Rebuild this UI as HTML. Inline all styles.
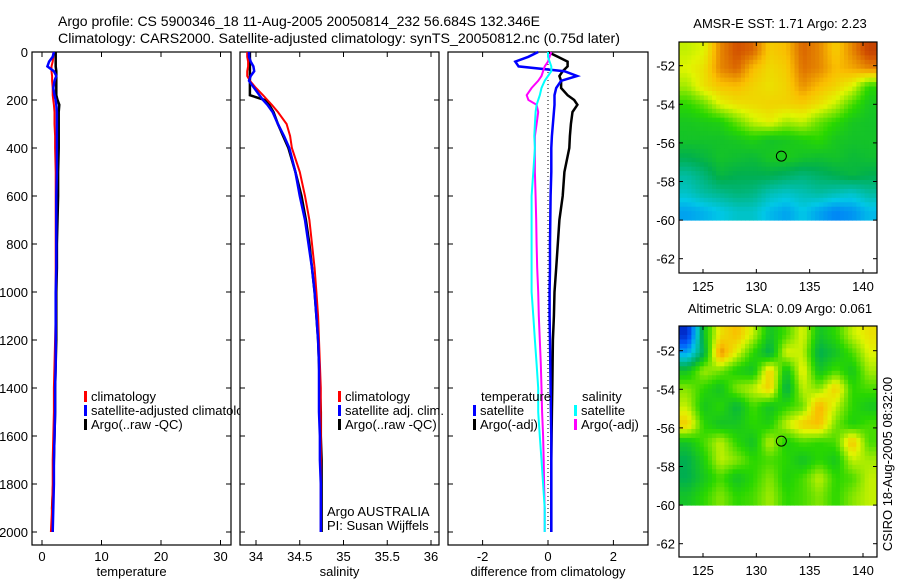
<!DOCTYPE html>
<html><head><meta charset="utf-8">
<style>
html,body{margin:0;padding:0;background:#fff;}
svg{display:block;font-family:"Liberation Sans",Arial,sans-serif;}
text{font-size:13px;fill:#000;}
</style></head>
<body>
<svg id="fig" width="900" height="580" viewBox="0 0 900 580">
<text x="58" y="26" textLength="482" lengthAdjust="spacingAndGlyphs" style="font-size:14px">Argo profile: CS 5900346_18 11-Aug-2005 20050814_232 56.684S 132.346E</text>
<text x="58" y="43" textLength="562" lengthAdjust="spacingAndGlyphs" style="font-size:14px">Climatology: CARS2000. Satellite-adjusted climatology: synTS_20050812.nc (0.75d later)</text>
<text x="780" y="28" text-anchor="middle">AMSR-E SST: 1.71 Argo: 2.23</text>
<text x="780" y="313" text-anchor="middle">Altimetric SLA: 0.09 Argo: 0.061</text>
<text transform="translate(892,464) rotate(-90)" text-anchor="middle">CSIRO 18-Aug-2005 08:32:00</text>
</svg>
<script>
const depths=[0,20,40,60,80,100,120,150,180,200,220,250,300,350,400,500,600,700,800,900,1000,1100,1200,1300,1400,1500,1600,1700,1800,1900,2000];
const climT=[1.9,1.9,1.8,1.6,1.6,1.7,1.7,1.8,1.8,1.9,2.0,2.1,2.1,2.2,2.2,2.3,2.3,2.3,2.3,2.3,2.3,2.3,2.2,2.1,2.0,2.0,1.9,1.8,1.8,1.7,1.5];
const satT=[2.0,1.8,1.2,0.9,2.0,2.4,2.1,1.9,2.1,2.3,2.4,2.5,2.5,2.5,2.5,2.5,2.4,2.4,2.4,2.4,2.3,2.3,2.3,2.3,2.2,2.2,2.1,2.0,2.0,1.9,1.8];
const argoT=[2.3,2.3,2.3,2.3,2.4,2.4,2.4,2.4,2.4,2.6,2.9,2.8,2.8,2.8,2.8,2.7,2.7,2.6,2.5,2.5,2.4,2.4,2.4,2.3,2.2,2.2,2.1,2.0,1.9,1.7,1.8];
const climS=[33.9,33.9,33.91,33.91,33.9,33.9,33.93,34.0,34.08,34.13,34.18,34.25,34.35,34.39,34.41,34.5,34.56,34.61,34.64,34.67,34.69,34.71,34.72,34.73,34.74,34.74,34.74,34.74,34.74,34.74,34.74];
const satS=[33.92,33.92,33.94,33.97,33.98,33.94,33.92,33.98,34.04,34.08,34.13,34.19,34.25,34.32,34.38,34.45,34.5,34.56,34.6,34.64,34.67,34.69,34.71,34.72,34.72,34.72,34.73,34.73,34.74,34.74,34.74];
const argoS=[33.93,33.93,33.93,33.93,33.93,33.93,33.93,33.93,33.93,34.1,34.15,34.2,34.25,34.31,34.37,34.45,34.52,34.57,34.61,34.64,34.67,34.69,34.71,34.72,34.73,34.74,34.74,34.75,34.75,34.75,34.75];
const dSatT=[-0.3,-0.6,-1.0,-0.9,0.5,0.89,0.4,0.25,0.2,0.2,0.2,0.18,0.15,0.12,0.1,0.1,0.08,0.07,0.06,0.06,0.05,0.05,0.06,0.07,0.08,0.09,0.1,0.1,0.1,0.1,0.1];
const dArgoT=[0.0,0.3,0.6,0.6,0.45,0.35,0.4,0.4,0.6,0.8,0.9,0.75,0.7,0.67,0.65,0.5,0.45,0.35,0.3,0.25,0.2,0.18,0.15,0.14,0.13,0.12,0.11,0.1,0.1,0.1,0.1];
const dSatS=[0.0,0.0,0.05,0.1,0.1,0.0,-0.1,-0.2,-0.25,-0.3,-0.35,-0.38,-0.4,-0.42,-0.4,-0.45,-0.5,-0.5,-0.5,-0.5,-0.5,-0.45,-0.4,-0.35,-0.3,-0.3,-0.25,-0.2,-0.15,-0.1,-0.1];
const dArgoS=[0.1,0.05,0.0,-0.1,-0.15,-0.2,-0.3,-0.5,-0.65,-0.6,-0.35,-0.3,-0.35,-0.4,-0.4,-0.4,-0.38,-0.36,-0.35,-0.33,-0.3,-0.28,-0.25,-0.22,-0.2,-0.18,-0.15,-0.13,-0.12,-0.1,-0.1];
const depthTicks=[0,200,400,600,800,1000,1200,1400,1600,1800,2000];
const tTicks=[0,10,20,30];
const sTicks=[34,34.5,35,35.5,36];
const dTicks=[-2,0,2];
const sstGrid=[
[0.7,0.72,0.85,0.9,0.88,0.78,0.8,0.88,0.85,0.78,0.85,0.92],
[0.72,0.75,0.85,0.88,0.8,0.76,0.78,0.87,0.85,0.8,0.82,0.85],
[0.68,0.75,0.79,0.8,0.77,0.75,0.77,0.84,0.8,0.77,0.72,0.6],
[0.6,0.64,0.72,0.75,0.76,0.77,0.77,0.78,0.75,0.7,0.62,0.56],
[0.56,0.57,0.58,0.64,0.7,0.73,0.68,0.7,0.64,0.6,0.56,0.55],
[0.55,0.55,0.55,0.56,0.58,0.55,0.56,0.58,0.6,0.56,0.55,0.55],
[0.5,0.52,0.55,0.54,0.53,0.56,0.57,0.55,0.54,0.55,0.53,0.54],
[0.42,0.46,0.52,0.5,0.5,0.5,0.48,0.46,0.48,0.5,0.52,0.5],
[0.38,0.42,0.44,0.46,0.45,0.4,0.38,0.4,0.42,0.4,0.38,0.42],
[0.3,0.32,0.35,0.38,0.38,0.33,0.3,0.35,0.3,0.26,0.28,0.33]];
const slaGrid=[
[0.1,0.55,0.75,0.8,0.7,0.55,0.62,0.72,0.55,0.6,0.7,0.75],
[0.3,0.5,0.85,0.72,0.6,0.5,0.72,0.7,0.5,0.55,0.62,0.72],
[0.55,0.68,0.65,0.58,0.55,0.78,0.55,0.74,0.55,0.62,0.56,0.68],
[0.66,0.6,0.55,0.66,0.7,0.78,0.5,0.7,0.66,0.78,0.6,0.62],
[0.7,0.56,0.6,0.52,0.62,0.55,0.6,0.64,0.82,0.7,0.6,0.56],
[0.78,0.6,0.55,0.56,0.6,0.58,0.7,0.78,0.8,0.65,0.58,0.62],
[0.55,0.62,0.7,0.6,0.55,0.7,0.58,0.62,0.6,0.62,0.8,0.62],
[0.5,0.58,0.7,0.66,0.6,0.62,0.6,0.55,0.6,0.56,0.7,0.68],
[0.5,0.56,0.62,0.55,0.6,0.66,0.58,0.62,0.7,0.6,0.62,0.7],
[0.55,0.6,0.66,0.6,0.62,0.68,0.6,0.62,0.66,0.6,0.66,0.7]];
const latTicks=[-52,-54,-56,-58,-60,-62];
const lonTicks=[125,130,135,140];
const floatLon=132.346, floatLat=-56.684;

const NS='http://www.w3.org/2000/svg';
const svg=document.getElementById('fig');
function mk(tag,attrs,parent){const e=document.createElementNS(NS,tag);for(const k in attrs)e.setAttribute(k,attrs[k]);(parent||svg).appendChild(e);return e;}
function txt(x,y,s,anchor){const t=mk('text',{x:x,y:y,'text-anchor':anchor||'start'});t.textContent=s;return t;}

const PT=52,PB=545;
const yDepth=d=>52+d*(532-52)/2000;
const panels=[
 {name:'temperature',x0:32,x1:231,sx:v=>42+v*5.95,ticks:tTicks,label:'temperature'},
 {name:'salinity',x0:240,x1:439,sx:v=>256+(v-34)*87.5,ticks:sTicks,label:'salinity'},
 {name:'difference',x0:448,x1:648,sx:v=>548+v*32.7,ticks:dTicks,label:'difference from climatology'}];

function drawLine(p,xs,color,w,dash,name){
 const pts=xs.map((v,i)=>p.sx(v).toFixed(1)+','+yDepth(depths[i]).toFixed(1)).join(' ');
 const l=mk('polyline',{points:pts,fill:'none',stroke:color,'stroke-width':w});
 if(dash)l.setAttribute('stroke-dasharray',dash);
 
 
}
function legend(x,y,color,label,name){
 const r=mk('rect',{x:x,y:y-10,width:3,height:11,fill:color});
 
 
 const t=txt(x+7,y,label);
 
 
}

panels.forEach((p,pi)=>{
 const g=mk('rect',{x:p.x0,y:PT,width:p.x1-p.x0,height:PB-PT,fill:'#fff',stroke:'#000','stroke-width':1.2});
 
 
 p.ticks.forEach(v=>{const x=p.sx(v);
  mk('line',{x1:x,x2:x,y1:PB,y2:PB-5,stroke:'#000'});
  mk('line',{x1:x,x2:x,y1:PT,y2:PT+5,stroke:'#000'});
  const t=txt(x,561,String(v),'middle');
  
  });
 depthTicks.forEach(d=>{const y=yDepth(d);
  mk('line',{x1:p.x0,x2:p.x0+5,y1:y,y2:y,stroke:'#000'});
  mk('line',{x1:p.x1,x2:p.x1-5,y1:y,y2:y,stroke:'#000'});
  if(pi===0){const t=txt(28,y+5,String(d),'end');
   
   }});
 const xl=txt((p.x0+p.x1)/2,576,p.label,'middle');
 
 
 if(pi===0){
  drawLine(p,argoT,'#000',2.5,null,'argo-temperature-line');
  drawLine(p,climT,'#f00',2,null,'climatology-temperature-line');
  drawLine(p,satT,'#00f',2.5,null,'satellite-temperature-line');
  legend(84,401,'#f00','climatology','legend-climatology');
  legend(84,415,'#00f','satellite-adjusted climatology','legend-satellite-adjusted');
  legend(84,429,'#000','Argo(..raw -QC)','legend-argo');
 }
 if(pi===1){
  drawLine(p,argoS,'#000',2.5,null,'argo-salinity-line');
  drawLine(p,climS,'#f00',2,null,'climatology-salinity-line');
  drawLine(p,satS,'#00f',2.5,null,'satellite-salinity-line');
  legend(338,401,'#f00','climatology','legend-climatology-sal');
  legend(338,415,'#00f','satellite adj. clim.','legend-satellite-sal');
  legend(338,429,'#000','Argo(..raw -QC)','legend-argo-sal');
  const a=txt(327,516,'Argo AUSTRALIA');
  const b=txt(327,530,'PI: Susan Wijffels');
 }
 if(pi===2){
  const z=mk('line',{x1:p.sx(0),x2:p.sx(0),y1:yDepth(0),y2:yDepth(2000),stroke:'#000','stroke-dasharray':'1,3'});
  
  
  drawLine(p,dArgoT,'#000',2.5,null,'argo-temp-diff-line');
  drawLine(p,dSatT,'#00f',2.5,null,'satellite-temp-diff-line');
  drawLine(p,dArgoS,'#f0f',2,null,'argo-sal-diff-line');
  drawLine(p,dSatS,'#0ff',2,null,'satellite-sal-diff-line');
  const t1=txt(481,401,'temperature');
  const t2=txt(582,401,'salinity');
  legend(473,415,'#00f','satellite','legend-temp-satellite');
  legend(473,429,'#000','Argo(-adj)','legend-temp-argo');
  legend(574,415,'#0ff','satellite','legend-sal-satellite');
  legend(574,429,'#f0f','Argo(-adj)','legend-sal-argo');
 }
});

const stops=[[0,[0,0,150]],[0.2,[0,90,255]],[0.35,[0,200,230]],[0.5,[0,175,80]],[0.6,[40,215,0]],[0.72,[225,245,0]],[0.8,[250,190,0]],[0.9,[210,80,0]],[1,[150,20,0]]];
function cmap(v){for(let i=1;i<stops.length;i++){if(v<=stops[i][0]){const a=stops[i-1],b=stops[i],t=(v-a[0])/(b[0]-a[0]);
 const c=a[1].map((q,k)=>Math.round(q+(b[1][k]-q)*t));return 'rgb('+c.join(',')+')';}}return 'rgb(150,20,0)';}
function sample(grid,fr,fc){
 const nr=grid.length,nc=grid[0].length;
 const r=Math.max(0,Math.min(nr-1,fr)),c=Math.max(0,Math.min(nc-1,fc));
 const r0=Math.floor(r),c0=Math.floor(c),r1=Math.min(nr-1,r0+1),c1=Math.min(nc-1,c0+1),tr=r-r0,tc=c-c0;
 return (grid[r0][c0]*(1-tc)+grid[r0][c1]*tc)*(1-tr)+(grid[r1][c0]*(1-tc)+grid[r1][c1]*tc)*tr;
}

const MX0=679,MX1=877,LON0=122.75,LONPX=10.667,LATPX=19.3,SUB=4;
const lonX=lon=>MX0+(lon-LON0)*LONPX;
function drawMap(grid,top,bottom,y52,name){
 const latY=lat=>y52+(-52-lat)*LATPX;
 const fr=mk('rect',{x:MX0,y:top,width:MX1-MX0,height:bottom-top,fill:'#fff'});
 
 
 const latTop=-52+(y52-top)/LATPX, latBot=-60;
 const nr=grid.length,nc=grid[0].length;
 const dLon=(MX1-MX0)/LONPX/nc/SUB, dLat=(latTop-latBot)/nr/SUB;
 for(let r=0;r<nr*SUB;r++)for(let c=0;c<nc*SUB;c++){
  const v=sample(grid,(r+0.5)/SUB-0.5,(c+0.5)/SUB-0.5);
  const x=lonX(LON0+c*dLon), y=latY(latTop-r*dLat);
  const cell=mk('rect',{x:x.toFixed(2),y:y.toFixed(2),width:(dLon*LONPX+0.5).toFixed(2),height:(dLat*LATPX+0.5).toFixed(2),fill:cmap(v)});
  
  
 }
 const b=mk('rect',{x:MX0,y:top,width:MX1-MX0,height:bottom-top,fill:'none',stroke:'#000','stroke-width':1.2});
 
 
 latTicks.forEach(l=>{const y=latY(l);
  mk('line',{x1:MX0,x2:MX0+4,y1:y,y2:y,stroke:'#000'});
  mk('line',{x1:MX1,x2:MX1-4,y1:y,y2:y,stroke:'#000'});
  const t=txt(MX0-4,y+5,String(l),'end');
  
  });
 lonTicks.forEach(l=>{const x=lonX(l);
  mk('line',{x1:x,x2:x,y1:bottom,y2:bottom-4,stroke:'#000'});
  mk('line',{x1:x,x2:x,y1:top,y2:top+4,stroke:'#000'});
  const t=txt(x,bottom+18,String(l),'middle');
  
  });
 const c=mk('circle',{cx:lonX(floatLon),cy:latY(floatLat),r:5,fill:'none',stroke:'#000','stroke-width':1});
 
 
}
drawMap(sstGrid,42,273,65.7,'sst-map');
drawMap(slaGrid,326,557,350.7,'sla-map');
</script>
</body></html>
